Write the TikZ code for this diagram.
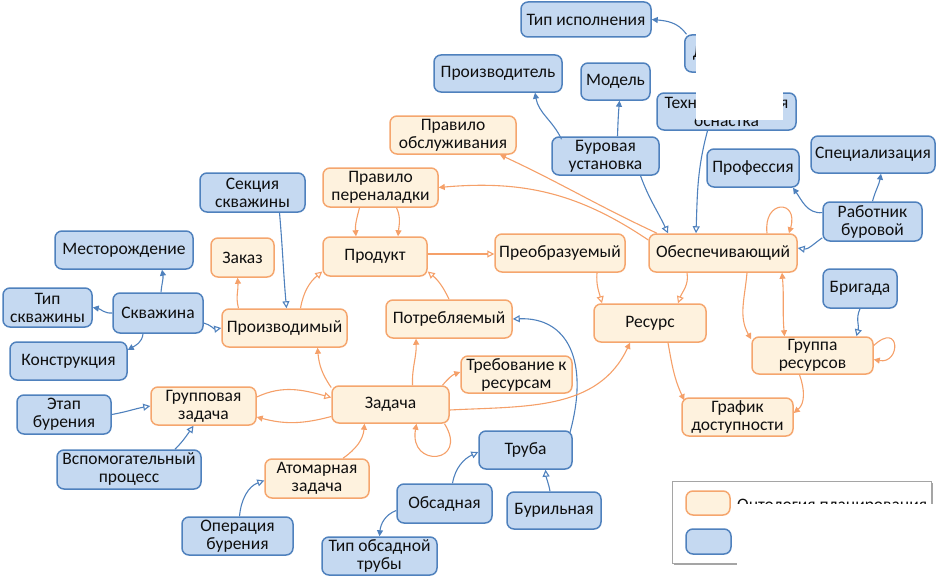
\documentclass[tikz,border=0pt]{standalone}
\usepackage{fontspec}
\setmainfont{Carlito}
\usetikzlibrary{arrows.meta}
\definecolor{bline}{RGB}{79,129,189}
\definecolor{bfill}{RGB}{197,217,241}
\definecolor{oline}{RGB}{245,166,110}
\definecolor{ofill}{RGB}{254,242,222}
\definecolor{oedge}{RGB}{245,160,105}
\definecolor{txt}{RGB}{15,15,15}
\definecolor{lgray}{RGB}{165,165,165}
\begin{document}
\begin{tikzpicture}[x=1pt,y=-1pt,
 box/.style={rounded corners=7pt, line width=1.5pt, align=center, inner sep=0pt, text=txt, font=\fontsize{17.5}{18}\selectfont},
 bn/.style={box, draw=bline, fill=bfill},
 on/.style={box, draw=oline, fill=ofill},
 ba/.style={draw=bline, line width=1.1pt, -{Triangle[length=6pt,width=6pt]}},
 bo/.style={draw=bline, line width=1.1pt, -{Triangle[open,length=7pt,width=7pt]}},
 oa/.style={draw=oedge, line width=1.1pt, -{Triangle[length=6pt,width=6pt]}},
 oo/.style={draw=oedge, line width=1.1pt, -{Triangle[open,length=7pt,width=7pt]}},
 oaa/.style={draw=oedge, line width=1.1pt, {Triangle[length=6pt,width=6pt]}-{Triangle[length=6pt,width=6pt]}},
]
\useasboundingbox (0,0) rectangle (936,578);

% blue nodes
\node[bn, minimum width=130pt, minimum height=35pt] (tipisp) at (586,19.5) {Тип исполнения};
\node[bn, anchor=west, minimum height=37pt, text width=70pt, inner xsep=8pt, align=left] (d) at (684,53.5) {Д};
\node[bn, minimum width=139pt, minimum height=37pt] (tech) at (726.5,111.5) {Технологическая\\оснастка};
\node[bn, minimum width=128pt, minimum height=37pt] (proizv) at (498,73.5) {Производитель};
\node[bn, minimum width=69pt, minimum height=37pt] (model) at (615.5,81.5) {Модель};
\node[bn, minimum width=107pt, minimum height=38pt] (burust) at (605.5,156) {Буровая\\установка};
\node[bn, minimum width=92pt, minimum height=38pt] (prof) at (753,168) {Профессия};
\node[bn, minimum width=124pt, minimum height=37pt] (spec) at (873,154.5) {Специализация};
\node[bn, minimum width=105pt, minimum height=39pt] (sekc) at (252.5,192.5) {Секция\\скважины};
\node[bn, minimum width=99pt, minimum height=39pt] (rabot) at (872.5,221.5) {Работник\\буровой};
\node[bn, minimum width=138pt, minimum height=38pt] (mest) at (124,250) {Месторождение};
\node[bn, minimum width=89pt, minimum height=39pt] (tipskv) at (47.5,307.5) {Тип\\скважины};
\node[bn, minimum width=90pt, minimum height=40pt] (skv) at (158,313) {Скважина};
\node[bn, minimum width=74pt, minimum height=39pt] (brig) at (860,288.5) {Бригада};
\node[bn, minimum width=117pt, minimum height=38pt] (konstr) at (68.5,361) {Конструкция};
\node[bn, minimum width=94pt, minimum height=39pt] (etap) at (64,414.5) {Этап\\бурения};
\node[bn, minimum width=144pt, minimum height=39pt] (vspom) at (129,469.5) {Вспомогательный\\процесс};
\node[bn, minimum width=93pt, minimum height=38pt] (truba) at (525.5,450) {Труба};
\node[bn, minimum width=95pt, minimum height=39pt] (obsad) at (444.5,503.5) {Обсадная};
\node[bn, minimum width=94pt, minimum height=37pt] (buril) at (554,510.5) {Бурильная};
\node[bn, minimum width=111pt, minimum height=38pt] (oper) at (237.5,536) {Операция\\бурения};
\node[bn, minimum width=115pt, minimum height=38pt] (tipobs) at (379.5,556) {Тип обсадной\\трубы};

% orange nodes
\node[on, minimum width=126pt, minimum height=38pt] (pravobs) at (453,135) {Правило\\обслуживания};
\node[on, minimum width=115pt, minimum height=39pt] (pravper) at (380.5,187.5) {Правило\\переналадки};
\node[on, minimum width=63pt, minimum height=39pt] (zakaz) at (242.5,257.5) {Заказ};
\node[on, minimum width=104pt, minimum height=39pt] (produkt) at (375,256.5) {Продукт};
\node[on, minimum width=130pt, minimum height=38pt] (preobr) at (560,253) {Преобразуемый};
\node[on, minimum width=148pt, minimum height=38pt] (obesp) at (723,253) {Обеспечивающий};
\node[on, minimum width=125pt, minimum height=38pt] (proizvod) at (284.5,328) {Производимый};
\node[on, minimum width=126pt, minimum height=38pt] (potr) at (449,319) {Потребляемый};
\node[on, minimum width=111pt, minimum height=37pt] (treb) at (516.5,374.5) {Требование к\\ресурсам};
\node[on, minimum width=112pt, minimum height=38pt] (resurs) at (650,323) {Ресурс};
\node[on, minimum width=121pt, minimum height=37pt] (gruppa) at (812.5,355.5) {Группа\\ресурсов};
\node[on, minimum width=105pt, minimum height=38pt] (grzad) at (203.5,406) {Групповая\\задача};
\node[on, minimum width=117pt, minimum height=37pt] (zadacha) at (390.5,404.5) {Задача};
\node[on, minimum width=111pt, minimum height=38pt] (grafik) at (737.5,417) {График\\доступности};
\node[on, minimum width=104pt, minimum height=39pt] (atom) at (317,478.5) {Атомарная\\задача};

% blue connectors
\draw[ba] (d.155) to[out=125,in=-5] (tipisp.east);
\draw[ba] ([xshift=-44pt,yshift=-3pt]burust.north) to[out=115,in=-80] ([xshift=37pt]proizv.south);
\draw[ba] ([xshift=12pt]burust.north) to[out=88,in=-95] ([xshift=4pt]model.south);
\draw[bo] ([xshift=35pt]burust.south) to[out=-70,in=115] ([xshift=-55pt]obesp.north);
\draw[bo] ([xshift=-19pt]tech.south) to[out=-105,in=88] ([xshift=-27pt]obesp.north);
\draw[ba] (rabot.170) to[out=185,in=-55] ([xshift=40pt]prof.south);
\draw[ba] (rabot.north) to[out=75,in=-100] ([xshift=8pt]spec.south);
\draw[bo] (rabot.198) to[out=215,in=-10] ([yshift=5pt]obesp.east);
\draw[bo] (brig.south) to[out=-115,in=75] ([xshift=44pt]gruppa.north);
\draw[ba] ([xshift=3pt]skv.north) to[out=85,in=-80] ([xshift=38pt]mest.south);
\draw[ba] (skv.west) to[out=185,in=-10] (tipskv.east);
\draw[ba] ([xshift=-15pt]skv.south) to[out=-95,in=30] ([yshift=11pt]konstr.east);
\draw[bo] ([yshift=-10pt]skv.east) to[out=-15,in=190] (proizvod.west);
\draw[bo] ([xshift=27pt]sekc.south) to[out=-85,in=95] ([xshift=2pt]proizvod.north);
\draw[bo] (etap.east) to[out=10,in=190] (grzad.west);
\draw[bo] ([xshift=46pt]vspom.north) to[out=45,in=-125] ([xshift=-10pt]grzad.south);
\draw[bo] ([xshift=2pt]oper.north) to[out=85,in=200] ([yshift=-2pt]atom.west);
\draw[bo] ([xshift=8pt]obsad.north) to[out=80,in=205] ([yshift=-2pt]truba.west);
\draw[bo] ([xshift=-4pt]buril.north) to[out=100,in=-85] ([xshift=20pt]truba.south);
\draw[ba] ([yshift=-7pt]obsad.west) to[out=200,in=85] (tipobs.north);
\draw[bo] ([xshift=-3pt,yshift=-3pt]truba.north east) .. controls +(20,-72) and +(55,-2) .. (potr.east);

% orange connectors
\draw[oa] ([xshift=-66pt]obesp.north) to[out=155,in=-25] ([xshift=47pt]pravobs.south);
\draw[oa] ([yshift=13pt]obesp.west) to[out=146,in=5] (pravper.east);
\draw[oa] ([xshift=-21pt]pravper.south) to[out=-105,in=95] ([xshift=-19pt]produkt.north);
\draw[oa] ([xshift=16pt]pravper.south) to[out=-65,in=85] ([xshift=23pt]produkt.north);
\draw[oo] ([yshift=2.5pt]produkt.east) -- ([yshift=-1pt]preobr.west);
\draw[oa] ([xshift=-46pt]proizvod.north) to[out=105,in=-85] ([xshift=-5pt]zakaz.south);
\draw[oo] ([xshift=16pt]proizvod.north) to[out=80,in=220] ([yshift=-15pt]produkt.west);
\draw[oo] (potr.north) to[out=115,in=-40] ([yshift=-15pt]produkt.east);
\draw[oo] ([xshift=37pt]preobr.south) to[out=-95,in=105] ([xshift=-48pt]resurs.north);
\draw[oo] ([xshift=-36pt]obesp.south) to[out=-80,in=70] ([xshift=28pt]resurs.north);
\draw[oa] ([xshift=18pt]resurs.south) to[out=-80,in=115] ([xshift=3pt,yshift=-3pt]grafik.north west);
\draw[oa] ([xshift=24pt]obesp.south) to[out=-95,in=120] ([yshift=-3pt]gruppa.north west);
\draw[oaa] ([xshift=59pt]obesp.south) to[out=-85,in=95] ([xshift=-28pt]gruppa.north);
\draw[oa] ([xshift=44pt]obesp.north) .. controls +(-4,-34) and +(10,-34) .. ([xshift=66pt]obesp.north);
\draw[oa] ([yshift=10pt]gruppa.east) .. controls +(27,-25) and +(27,5) .. ([yshift=-4pt]gruppa.east);
\draw[oa] ([xshift=-13pt]gruppa.south) to[out=-70,in=40] ([yshift=4pt]grafik.east);
\draw[oa] (zadacha.164) to[out=125,in=-85] ([xshift=33pt]proizvod.south);
\draw[oa] ([xshift=22pt]zadacha.north) to[out=92,in=-88] ([xshift=-33pt]potr.south);
\draw[oa] ([xshift=52pt]zadacha.north) to[out=50,in=200] ([yshift=2.5pt]treb.west);
\draw[oa] ([yshift=-5.5pt]zadacha.east) to[out=3,in=-115] ([xshift=-20pt]resurs.south);
\draw[oa] ([xshift=54pt]zadacha.south) .. controls +(25,40) and +(-8,45) .. ([xshift=26pt]zadacha.south);
\draw[oo] ([yshift=9pt]grzad.east) to[out=25,in=165] ([yshift=7pt]zadacha.west);
\draw[oa] ([yshift=-12pt]zadacha.west) to[out=195,in=-15] ([yshift=-11pt]grzad.east);
\draw[oa] ([xshift=26pt]atom.north) to[out=35,in=-95] ([xshift=-26pt]zadacha.south);

% legend
\fill[lgray] (674,483) rectangle (933,565);
\draw[draw=lgray, fill=white, line width=0.8pt] (672,481) rectangle (931,563);
\node[on, minimum width=44pt, minimum height=24pt] (lego) at (708,503) {};
\node[bn, minimum width=45pt, minimum height=25pt] (legb) at (708.5,541.5) {};
\node[anchor=base west, inner sep=0pt, text=txt, font=\fontsize{17.5}{18}\selectfont] (legt) at (737,510.5) {Онтология планирования};

% white cover patches
\fill[white] (737,503.5) rectangle (936,578);
\fill[white] (696,30) rectangle (783,120);
\end{tikzpicture}
\end{document}
